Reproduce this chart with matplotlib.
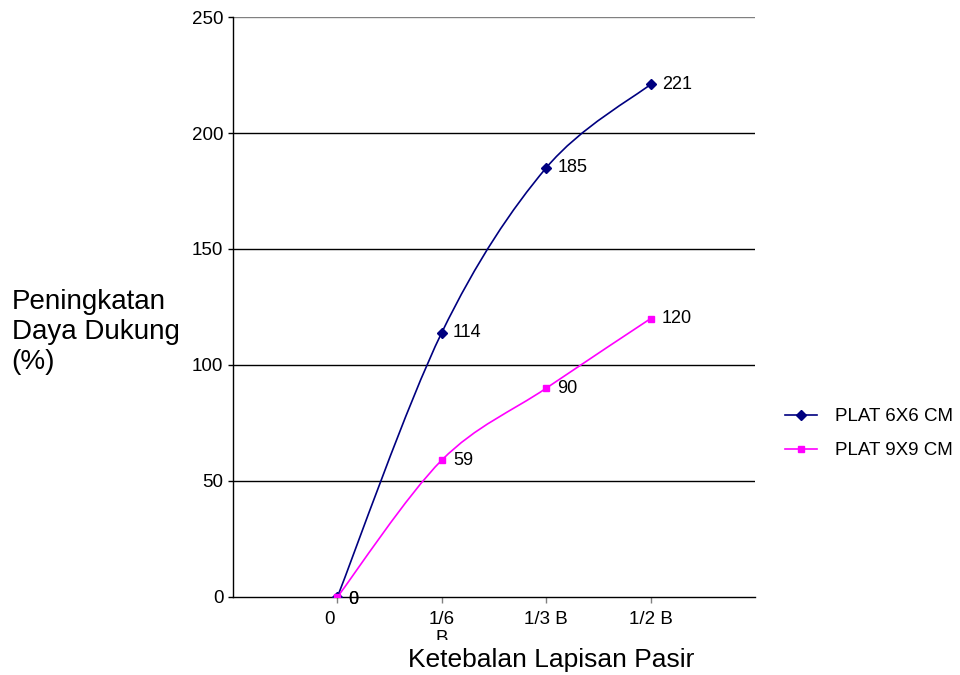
import matplotlib
matplotlib.use("Agg")
import matplotlib.pyplot as plt
from matplotlib.path import Path
from matplotlib.patches import PathPatch
from matplotlib.transforms import Bbox, TransformedBbox, ScaledTranslation
import numpy as np

plt.rcParams['font.family'] = ['Liberation Sans', 'DejaVu Sans']

categories = ["0", "1/6\nB", "1/3 B", "1/2 B"]
plat_6x6 = [0, 114, 185, 221]
plat_9x9 = [0, 59, 90, 120]
series_names = ["PLAT 6X6 CM", "PLAT 9X9 CM"]
colors = ["#000080", "#FF00FF"]
markers = ["D", "s"]


def smooth_path(xs, ys, k=1 / 6):
    # catmull-rom style bezier like excel's smoothed line
    xs = np.asarray(xs, float)
    ys = np.asarray(ys, float)
    verts = [(xs[0], ys[0])]
    codes = [Path.MOVETO]
    n = len(xs)
    for i in range(n - 1):
        p0 = (xs[max(i - 1, 0)], ys[max(i - 1, 0)])
        p1 = (xs[i], ys[i])
        p2 = (xs[i + 1], ys[i + 1])
        p3 = (xs[min(i + 2, n - 1)], ys[min(i + 2, n - 1)])
        c1 = (p1[0] + (p2[0] - p0[0]) * k, p1[1] + (p2[1] - p0[1]) * k)
        c2 = (p2[0] - (p3[0] - p1[0]) * k, p2[1] - (p3[1] - p1[1]) * k)
        verts += [c1, c2, p2]
        codes += [Path.CURVE4] * 3
    return Path(verts, codes)


fig = plt.figure(figsize=(9.6, 6.75), dpi=100)
ax = fig.add_axes([0.2427, 0.1156, 0.5438, 0.8592])

x = np.arange(len(categories))
for vals, name, c, m in zip([plat_6x6, plat_9x9], series_names, colors, markers):
    ax.add_patch(PathPatch(smooth_path(x, vals), fill=False, edgecolor=c, lw=1.2, zorder=3))
    ax.plot(x, vals, ls="none", marker=m, color=c, ms=5, zorder=4)
    ax.plot([], [], color=c, marker=m, ms=5, lw=1.2, label=name)
    for xi, v in zip(x, vals):
        ax.annotate(str(v), (xi, v), xytext=(8, -1.5 if v == 0 else 0),
                    textcoords="offset points", va="center", ha="left",
                    fontsize=13, zorder=5)

ax.set_xlim(-1, 4)
ax.set_ylim(0, 250)
ax.set_yticks(range(0, 251, 50))
ax.set_xticks(x)
ax.set_xticklabels(categories, fontsize=13.5, va="top", linespacing=1.2)
ax.tick_params(axis="y", labelsize=13.5, length=3.5, width=1, direction="out", pad=3.5)
ax.tick_params(axis="x", length=4, width=1, color="#808080", direction="out", pad=6)

# the wrapped "B" is cut off in the original, and "0" sits a bit left
clip = TransformedBbox(Bbox([[0, 35 / 675], [1, 1]]), fig.transFigure)
labs = ax.xaxis.get_ticklabels()
for lab in labs:
    lab.set_clip_box(clip)
    lab.set_clip_on(True)
labs[0].set_transform(labs[0].get_transform()
                      + ScaledTranslation(-0.075, 0, fig.dpi_scale_trans))

for y in range(50, 251, 50):
    ax.axhline(y, color="black" if y < 250 else "#808080", lw=1, zorder=1)

for s in ["top", "right"]:
    ax.spines[s].set_visible(False)
ax.spines["left"].set_linewidth(1)
ax.spines["bottom"].set_linewidth(1)

fig.text(0.012, 0.508, "Peningkatan\nDaya Dukung\n(%)", fontsize=20, ha="left",
         va="center", linespacing=1.2)
fig.text(0.574, 0.012, "Ketebalan Lapisan Pasir", fontsize=19, ha="center",
         va="baseline")

ax.legend(loc="upper left", bbox_to_anchor=(0.8177, 0.3956),
          bbox_transform=fig.transFigure, frameon=False, borderpad=0,
          borderaxespad=0, fontsize=13.5, handlelength=1.7, labelspacing=0.9,
          handletextpad=0.95)

fig.savefig("out.png", dpi=100)
